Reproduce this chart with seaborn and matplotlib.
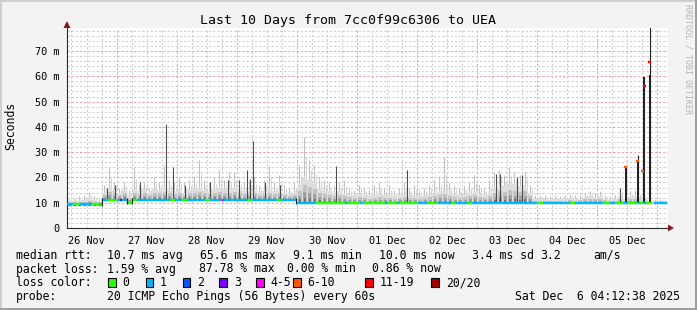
import numpy as np
import pandas as pd
import matplotlib
matplotlib.use("Agg")
import matplotlib.pyplot as plt
import seaborn as sns
from matplotlib.patches import Rectangle, Polygon
from matplotlib.ticker import FixedLocator, FuncFormatter

# ---------------- data (hours since Nov 26 04:12, values in ms) ----------------
day_labels = ["26 Nov", "27 Nov", "28 Nov", "29 Nov", "30 Nov",
              "01 Dec", "02 Dec", "03 Dec", "04 Dec", "05 Dec"]
first_noon_h = 7.79
first_midnight_h = 19.79
y_major_ms = [0, 10, 20, 30, 40, 50, 60, 70]

# median level segments
med_start_h = [0.0, 14.0, 24.0, 26.0, 91.4]
med_end_h = [14.0, 24.0, 26.0, 91.4, 240.0]
med_ms = [9.3, 11.2, 10.0, 11.2, 10.0]

# loss colour of the median line over time
loss_start_h = [0, 2.4, 5.2, 10, 13.6, 14.0, 16, 20, 21.2, 21.8, 24, 26, 28, 41, 43, 46, 48, 55, 57,
                61.9, 62.5, 72.3, 73.9, 84, 85.5, 91.4, 99, 111, 112.2, 117, 118.2, 127, 128.2,
                131.8, 133, 140.2, 144.2, 148.2, 153.8, 155, 160.1, 161.7, 187.7, 190, 200.9,
                202.9, 214, 216.9, 218.8, 222.4, 224, 227.6, 228.8, 230, 231.2, 234.3]
loss_end_h = [2.4, 5.2, 10, 13.6, 14.0, 16, 20, 21.2, 21.8, 24, 26, 28, 41, 43, 46, 48, 55, 57, 61.9,
              62.5, 72.3, 73.9, 84, 85.5, 91.4, 99, 111, 112.2, 117, 118.2, 127, 128.2, 131.8,
              133, 140.2, 144.2, 148.2, 153.8, 155, 160.1, 161.7, 187.7, 190, 200.9, 202.9,
              214, 216.9, 218.8, 222.4, 224, 227.6, 228.8, 230, 231.2, 233.5, 239.6]
loss_level = ["1", "0", "1", "0", "1", "1", "0", "1", "3", "1", "0", "0", "1", "0", "1", "0", "1", "0", "1",
              "4-5", "1", "0", "1", "0", "1", "1", "0", "1", "0", "1", "0", "1", "0",
              "1", "0", "1", "0", "1", "0", "1", "0", "1", "0", "1", "0",
              "1", "0", "1", "0", "1", "0", "1", "0", "1", "0", "1"]

# smoke per 2-hour bin: tallest light spike and top of the denser grey mass
smoke_max = [11.5, 11.8, 12.5, 13.0, 14.4, 12.5, 12.0,
             17, 24, 18, 16, 18, 15, 24, 17, 18, 16, 20, 18, 25, 19, 18, 20, 18, 19, 20, 27,
             19, 18, 20, 23, 19, 22, 22, 19, 18, 19, 20, 17, 19, 24.5, 18, 21, 17, 16, 18,
             25, 36, 27, 25, 20, 19, 18, 17, 18, 19, 16,
             15, 17, 16, 15, 17, 18, 16, 17, 15, 16, 18, 16, 17, 15, 16, 17, 19, 20, 28, 18,
             17, 16, 17, 18, 21, 17, 16, 19, 22, 23, 21, 24, 22, 21, 22, 17,
             13, 13, 13, 12.5, 13, 12.5, 13, 13.5, 13, 13, 14, 14.5, 14, 14.5, 13, 12.5, 13,
             16, 13, 14.5, 15, 13, 12, 11, 11.5, 11.5, 11]
smoke_mid = [10.6, 10.8, 10.8, 11.2, 11.8, 11.0, 10.8,
             14, 16, 15, 14, 15, 13, 15, 14.5, 15, 14, 15.5, 15, 16, 15, 14.5, 15, 14, 15, 15.5, 16,
             15, 14.5, 15, 16, 15, 15.5, 16, 15, 14.5, 15, 15, 14, 14.5, 15.5, 14.5, 15, 14, 13.5, 14,
             17, 20, 19, 18, 16, 15, 14.5, 14, 14.5, 14, 13.5,
             13, 13.5, 13, 12.5, 13, 13.5, 13, 13, 12.5, 13, 13.5, 13, 13, 12.5, 13, 13.5, 14, 14.5,
             15, 14, 13.5, 13, 13.5, 14, 14.5, 13.5, 13, 14, 16, 17, 16.5, 17.5, 17, 16.5, 17, 14,
             11.5, 11.5, 11.5, 11.2, 11.5, 11.3, 11.5, 11.8, 11.5, 11.6, 12.2, 12.5, 12.2, 12.5,
             11.6, 11.3, 11.5, 12.5, 11.5, 12.3, 12.5, 11.5, 11, 10.8, 10.8, 10.8, 10.6]

# notable dark spikes
dark_h = [16.0, 19.2, 29.2, 39.7, 42.3, 47.1, 57.1, 64.3, 68.7, 71.9, 73.1, 74.3, 79.1, 85.1,
          107.4, 135.8, 171.3, 172.9, 179.7, 181.7, 220.8]
dark_top = [16, 17, 18, 41, 24, 17, 18, 19, 19, 23, 19.5, 34.5, 18, 17,
            24.5, 23, 21.5, 21.4, 20, 21, 16]

# high-latency samples on 05 Dec
bar_h = [223.2, 228.0, 229.9, 230.5, 232.7]
bar_thick_top = [24.5, 26.6, 10.0, 59.8, 60.5]
bar_thin_top = [24.5, 28.9, 22.7, 59.8, 85.0]
bar_med = [24.3, 26.6, 22.4, 56.1, 65.8]
bar_loss = ["6-10", "6-10", "6-10", "11-19", "11-19"]

loss_labels = ["0", "1", "2", "3", "4-5", "6-10", "11-19", "20/20"]
loss_colors = ["#26ff00", "#00b8ff", "#0059ff", "#7e00ff", "#ff00f0", "#ff5500", "#ff0000", "#a10000"]

title = "Last 10 Days from 7cc0f99c6306 to UEA"
legend_lines = [
    (258.7, [(16, "median rtt:"), (107.3, "10.7 ms avg"), (200, "65.6 ms max"), (293.3, "9.1 ms min"),
             (379.3, "10.0 ms now"), (472.3, "3.4 ms sd"), (540, "3.2"), (593.3, "am/s")]),
    (272.5, [(16, "packet loss:"), (107.3, "1.59 % avg"), (199.3, "87.78 % max"),
             (286.7, "0.00 % min"), (371.7, "0.86 % now")]),
    (286.3, [(16, "loss color:")]),
    (300.0, [(16, "probe:"), (107.3, "20 ICMP Echo Pings (56 Bytes) every 60s")]),
]
loss_box_x = [108.3, 145.7, 182.7, 219.3, 256, 293.3, 365, 431]
loss_text_x = [122.7, 160, 197.3, 234.3, 270.7, 307.3, 380, 445.7]
stamp = "Sat Dec  6 04:12:38 2025"

# ---------------- drawing ----------------
W, H = 697, 310
sns.set_theme(style="white")
plt.rcParams['font.family'] = ['DejaVu Sans Mono', 'DejaVu Sans']
pal = dict(zip(loss_labels, loss_colors))

def fp(x, y):
    return (x / W, 1 - y / H)

def median_at(h):
    for s, e, v in zip(med_start_h, med_end_h, med_ms):
        if s <= h < e:
            return v
    return med_ms[-1]

fig = plt.figure(figsize=(W / 100, H / 100), dpi=100)
fig.patch.set_facecolor('#f3f3f3')
ax = fig.add_axes([67 / W, 1 - 228 / H, 601 / W, 200 / H])
ax.set_facecolor('white')

# smoke: light spike to the max, then shaded layers (darker towards the median)
centers = np.arange(len(smoke_max)) * 2.0 + 1.0
base = np.array([median_at(c) for c in centers]) - 0.6
mid = np.array(smoke_mid)
mx = np.array(smoke_max)
ax.vlines(centers - 0.3, base, mx, color='#c0c0c0', linewidth=0.75, zorder=2.0)
ax.vlines(centers + 0.5, base, (mx + mid) / 2, color='#d4d4d4', linewidth=0.75, zorder=2.0)
layer_frac = [1.0, 0.7, 0.45, 0.25]
layer_col = ['#dedede', '#c2c2c2', '#a0a0a0', '#747474']
layer_w = [2.0, 1.6, 1.2, 0.8]
for f, c, wdt in zip(layer_frac, layer_col, layer_w):
    ax.bar(centers, (mid - base) * f, bottom=base, width=wdt, color=c, linewidth=0, zorder=2.1)
ax.vlines(dark_h, [median_at(h) for h in dark_h], dark_top, color='#4a4a4a', linewidth=0.75, zorder=2.5)

# high-latency bars
ax.bar(bar_h, np.array(bar_thick_top) - 10.0, bottom=10.0, width=0.85, color='#222222', linewidth=0, zorder=3)
ax.vlines(bar_h, 10.0, bar_thin_top, color='#222222', linewidth=0.8, zorder=3)

# median line coloured by loss
rows = []
for i, (s, e, lv) in enumerate(zip(loss_start_h, loss_end_h, loss_level)):
    m = median_at((s + e) / 2)
    rows.append({'h': s, 'ms': m, 'seg': i, 'loss': lv})
    rows.append({'h': e, 'ms': m, 'seg': i, 'loss': lv})
df = pd.DataFrame(rows)
sns.lineplot(data=df, x='h', y='ms', hue='loss', units='seg', estimator=None, palette=pal,
             linewidth=1.7, legend=False, ax=ax, zorder=5, solid_capstyle='butt')
for e in med_start_h[1:]:
    a, b = median_at(e - 0.01), median_at(e + 0.01)
    ax.vlines(e, min(a, b) - 0.5, max(a, b) + 0.5, color='#222222', linewidth=0.8, zorder=5.5)
for h, m, lv in zip(bar_h, bar_med, bar_loss):
    ax.hlines(m, h - 0.6, h + 0.6, color=pal[lv], linewidth=1.7, zorder=6)

ax.set_xlabel('')
ax.set_ylabel('')
ax.set_xlim(0, 240)
ax.set_ylim(0, 79.1)

# ticks & grid
mids = [first_midnight_h + 24 * k for k in range(10)]
minors = [first_midnight_h - 18 + 6 * k for k in range(40) if k % 4 != 3]
minors = [m for m in minors if 0 < m < 240]
ax.xaxis.set_major_locator(FixedLocator(mids))
ax.xaxis.set_minor_locator(FixedLocator(minors))
ax.xaxis.set_major_formatter(FuncFormatter(lambda v, p: ''))

def xlab(v, p):
    k = (v - first_noon_h) / 24.0
    if abs(k - round(k)) < 1e-3 and 0 <= round(k) < len(day_labels):
        return day_labels[int(round(k))]
    return ''
ax.xaxis.set_minor_formatter(FuncFormatter(xlab))
ax.yaxis.set_major_locator(FixedLocator(y_major_ms))
ax.yaxis.set_minor_locator(FixedLocator([v for v in range(2, 80, 2) if v % 10 != 0]))
ax.yaxis.set_major_formatter(FuncFormatter(lambda v, p: '0' if v == 0 else '%d m' % v))

ax.tick_params(axis='both', which='both', direction='out', colors='#333333', labelcolor='black',
               labelsize=7.4, width=0.72)
ax.tick_params(axis='x', which='major', length=2.5, pad=3)
ax.tick_params(axis='x', which='minor', length=1.5, pad=4)
ax.tick_params(axis='y', which='major', length=2.5, pad=3)
ax.tick_params(axis='y', which='minor', length=1.2)
ax.grid(which='major', color='#f09c9c', linestyle=(0, (2, 2)), linewidth=0.75)
ax.grid(which='minor', color='#cdcdcd', linestyle=(0, (2, 2)), linewidth=0.75)
ax.set_axisbelow(True)
for sp in ['top', 'right']:
    ax.spines[sp].set_visible(False)
for sp in ['left', 'bottom']:
    ax.spines[sp].set_color('#2a2a2a')
    ax.spines[sp].set_linewidth(0.8)

# arrows
arrow_c = '#8b1a1a'
fig.add_artist(Polygon([fp(67, 21), fp(63.5, 28), fp(70.5, 28)], closed=True,
                       transform=fig.transFigure, color=arrow_c, lw=0))
fig.add_artist(Polygon([fp(674, 228), fp(668, 224.5), fp(668, 231.5)], closed=True,
                       transform=fig.transFigure, color=arrow_c, lw=0))

# texts
fig.text(*fp(347.5, 24), title, ha='center', va='baseline', fontsize=9.5, color='black')
fig.text(*fp(11, 126), 'Seconds', rotation=90, ha='center', va='center', fontsize=8.3, color='black')
fig.text(*fp(688, 59), 'RRDTOOL / TOBI OETIKER', rotation=270, ha='center', va='center',
         fontsize=6.0, color='#b4b4b4')
for yb, pieces in legend_lines:
    for x, t in pieces:
        fig.text(*fp(x, yb), t, ha='left', va='baseline', fontsize=8.3, color='black')
fig.text(*fp(680, 300.0), stamp, ha='right', va='baseline', fontsize=8.3, color='black')
for bx, tx, lab, col in zip(loss_box_x, loss_text_x, loss_labels, loss_colors):
    x0, y0 = fp(bx, 286.7)
    fig.add_artist(Rectangle((x0, y0), 7.7 / W, 8.5 / H, transform=fig.transFigure,
                             facecolor=col, edgecolor='black', linewidth=0.8))
    fig.text(*fp(tx, 286.3), lab, ha='left', va='baseline', fontsize=8.3, color='black')

# frame shading
fig.add_artist(Rectangle((0, 1 - 2 / H), 1, 2 / H, transform=fig.transFigure, color='#cfcfcf', lw=0))
fig.add_artist(Rectangle((0, 0), 2 / W, 1, transform=fig.transFigure, color='#cfcfcf', lw=0))
fig.add_artist(Rectangle((0, 0), 1, 2 / H, transform=fig.transFigure, color='#9e9e9e', lw=0))
fig.add_artist(Rectangle((1 - 2 / W, 0), 2 / W, 1, transform=fig.transFigure, color='#9e9e9e', lw=0))

fig.savefig('out.png', dpi=100, facecolor=fig.get_facecolor())
